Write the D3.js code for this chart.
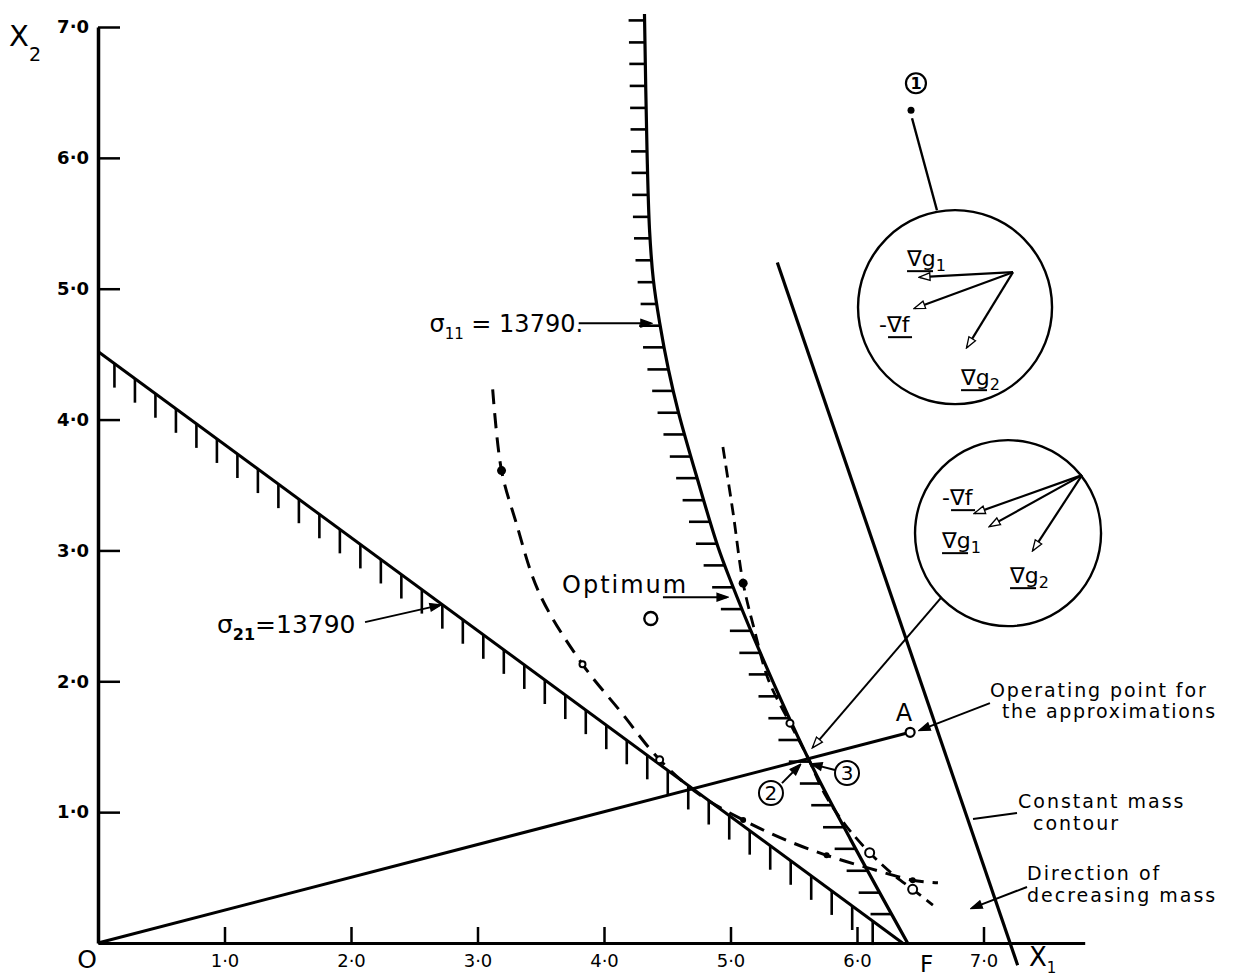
<!DOCTYPE html>
<html><head><meta charset="utf-8">
<script src="https://cdn.jsdelivr.net/npm/d3@7/dist/d3.min.js"></script>
<style>body{margin:0;background:#fff} svg text{font-family:"DejaVu Sans",sans-serif;fill:#000}</style>
</head><body><svg id="c" width="1237" height="978"></svg>
<script>
// ---------- data ----------
const xTicks = [1, 2, 3, 4, 5, 6, 7];
const yTicks = [1, 2, 3, 4, 5, 6, 7];
// constraint sigma11 = 13790 (curve)
const sigma11X = [4.32, 4.34, 4.36, 4.39, 4.44, 4.51, 4.59, 4.74, 4.90, 5.00, 5.19, 5.61, 5.95, 6.40];
const sigma11Y = [7.10, 6.06, 5.45, 5.07, 4.74, 4.38, 4.05, 3.54, 3.03, 2.77, 2.32, 1.42, 0.79, 0.00];
// constraint sigma21 = 13790 (straight line)
const sigma21X = [0.00, 6.36];
const sigma21Y = [4.52, 0.00];
// constant mass contour
const massX = [5.37, 7.27];
const massY = [5.20, -0.17];
// line from origin O to operating point A
const opX = [0.00, 6.42];
const opY = [0.00, 1.61];
// approximated constraint (dashed, left)
const approx1X = [3.12, 3.19, 3.30, 3.49, 3.83, 4.13, 4.44, 4.76, 5.10, 5.43, 5.76, 6.10, 6.44, 6.64];
const approx1Y = [4.23, 3.61, 3.23, 2.67, 2.13, 1.77, 1.40, 1.13, 0.94, 0.79, 0.67, 0.57, 0.48, 0.46];
// approximated constraint (dashed, right)
const approx2X = [4.94, 5.02, 5.10, 5.19, 5.30, 5.47, 5.61, 5.75, 5.91, 6.10, 6.29, 6.44, 6.60];
const approx2Y = [3.79, 3.29, 2.75, 2.39, 2.01, 1.68, 1.42, 1.13, 0.90, 0.69, 0.52, 0.41, 0.29];
// markers on the approximations
const filledDotX = [3.19, 5.10, 5.10, 5.76, 6.44];
const filledDotY = [3.61, 2.75, 0.94, 0.67, 0.48];
const filledDotR = [4.5, 4.5, 3, 3, 3];
const openDotX = [3.83, 4.44, 5.47, 6.10, 6.44];
const openDotY = [2.13, 1.40, 1.68, 0.69, 0.41];
const openDotR = [3, 3.5, 3.5, 4.5, 4.5];
const optimumX = [4.37];
const optimumY = [2.48];

// ---------- scales ----------
const x = d3.scaleLinear().domain([0, 7]).range([98, 983.5]);
const y = d3.scaleLinear().domain([0, 7]).range([943, 27]);
const xAxisScale = x.copy().domain([0, 7.8]).range([x(0), x(7.8)]);
const fmt = d => d3.format(".1f")(d).replace(".", "·");

const svg = d3.select("#c");
const defs = svg.append("defs");
function mk(id, w, h, fill) {
  defs.append("marker").attr("id", id).attr("viewBox", "0 0 10 10")
    .attr("refX", 9).attr("refY", 5).attr("markerWidth", w).attr("markerHeight", h)
    .attr("markerUnits", "userSpaceOnUse").attr("orient", "auto")
    .append("path").attr("d", "M0,1.5 L10,5 L0,8.5 Z").attr("fill", fill).attr("stroke", "#000").attr("stroke-width", 1.2);
}
mk("arr", 13, 11, "#000");
mk("arrO", 13, 11, "#fff");

// ---------- axes ----------
const gx = svg.append("g").attr("transform", `translate(0,${y(0)})`)
  .call(d3.axisBottom(xAxisScale).tickValues(xTicks).tickSizeInner(-16).tickSizeOuter(0).tickPadding(11).tickFormat(fmt));
gx.select(".domain").attr("stroke-width", 3);
gx.selectAll(".tick line").attr("stroke-width", 2.5);
gx.selectAll(".tick text").attr("font-size", 18).attr("font-family", "DejaVu Sans");

const gy = svg.append("g").attr("transform", `translate(${x(0)},0)`)
  .call(d3.axisLeft(y).tickValues(yTicks).tickSizeInner(-22).tickSizeOuter(0).tickPadding(9).tickFormat(fmt));
gy.select(".domain").attr("stroke-width", 3.5);
gy.selectAll(".tick line").attr("stroke-width", 2.5);
gy.selectAll(".tick text").attr("font-size", 18).attr("font-weight", "bold").attr("font-family", "DejaVu Sans");

// axis names
svg.append("text").attr("x", x(0) - 11).attr("y", y(0) + 25).attr("text-anchor", "middle").attr("font-size", 25).text("O");
svg.append("text").attr("x", x(6.55)).attr("y", y(0) + 29).attr("text-anchor", "middle").attr("font-size", 23).text("F");
const x1 = svg.append("text").attr("x", x(7.36)).attr("y", y(0) + 23).attr("font-size", 26);
x1.append("tspan").text("X");
x1.append("tspan").attr("font-size", 15).attr("dy", 7).text("1");
const x2 = svg.append("text").attr("x", 9).attr("y", 46).attr("font-size", 29);
x2.append("tspan").text("X");
x2.append("tspan").attr("font-size", 19).attr("dy", 15).text("2");

const line = d3.line().x((d) => x(d[0])).y((d) => y(d[1]));
const zip = (a, b) => a.map((v, i) => [v, b[i]]);

// ---------- sigma21 line + hatching ----------
svg.append("path").attr("d", line(zip(sigma21X, sigma21Y))).attr("fill", "none").attr("stroke", "#000").attr("stroke-width", 3);
const s21 = d3.scaleLinear().domain(sigma21X).range(sigma21Y);
const hatch21 = d3.range(0.13, 6.2, 0.162);
svg.append("g").selectAll("line").data(hatch21).join("line")
  .attr("x1", d => x(d)).attr("x2", d => x(d))
  .attr("y1", d => y(s21(d))).attr("y2", d => y(s21(d)) + 24)
  .attr("stroke", "#000").attr("stroke-width", 2.6);

// ---------- sigma11 curve + hatching ----------
const p11 = svg.append("path").attr("d", line.curve(d3.curveCatmullRom.alpha(0.5))(zip(sigma11X, sigma11Y)))
  .attr("fill", "none").attr("stroke", "#000").attr("stroke-width", 3.2);
line.curve(d3.curveLinear);
{
  const node = p11.node(), L = node.getTotalLength();
  const samples = d3.range(0, L, 0.5).map(l => node.getPointAtLength(l));
  const ys = d3.range(y(7.05), y(0.12), 21.8);
  const pts = ys.map(py => { let best = samples[0]; for (const s of samples) if (Math.abs(s.y - py) < Math.abs(best.y - py)) best = s; return best; });
  svg.append("g").selectAll("line").data(pts).join("line")
    .attr("x1", d => d.x).attr("x2", (d, i) => d.x - (i < 14 ? 16 : 21))
    .attr("y1", d => d.y).attr("y2", d => d.y)
    .attr("stroke", "#000").attr("stroke-width", 2.6);
}

// ---------- constant mass contour ----------
svg.append("path").attr("d", line(zip(massX, massY))).attr("fill", "none").attr("stroke", "#000").attr("stroke-width", 3.2);

// ---------- O -> A line ----------
svg.append("path").attr("d", line(zip(opX, opY))).attr("fill", "none").attr("stroke", "#000").attr("stroke-width", 3);
svg.append("circle").attr("cx", x(opX[1])).attr("cy", y(opY[1])).attr("r", 4.5).attr("fill", "#fff").attr("stroke", "#000").attr("stroke-width", 2.2);

// ---------- approximations (dashed) ----------
const smooth = d3.line().x(d => x(d[0])).y(d => y(d[1])).curve(d3.curveCatmullRom.alpha(0.5));
svg.append("path").attr("d", smooth(zip(approx1X, approx1Y))).attr("fill", "none").attr("stroke", "#000")
  .attr("stroke-width", 3).attr("stroke-dasharray", "15,9");
svg.append("path").attr("d", smooth(zip(approx2X, approx2Y))).attr("fill", "none").attr("stroke", "#000")
  .attr("stroke-width", 2.8).attr("stroke-dasharray", "12,7");
svg.append("g").selectAll("circle").data(filledDotX).join("circle")
  .attr("cx", d => x(d)).attr("cy", (d, i) => y(filledDotY[i])).attr("r", (d, i) => filledDotR[i]).attr("fill", "#000");
svg.append("g").selectAll("circle").data(openDotX).join("circle")
  .attr("cx", d => x(d)).attr("cy", (d, i) => y(openDotY[i])).attr("r", (d, i) => openDotR[i])
  .attr("fill", "#fff").attr("stroke", "#000").attr("stroke-width", 2);

// optimum
svg.append("circle").attr("cx", x(optimumX[0])).attr("cy", y(optimumY[0])).attr("r", 6.5)
  .attr("fill", "none").attr("stroke", "#000").attr("stroke-width", 2.4);

// ---------- annotations ----------
function arrow(x0, y0, x1, y1, open, w) {
  svg.append("line").attr("x1", x(x0)).attr("y1", y(y0)).attr("x2", x(x1)).attr("y2", y(y1))
    .attr("stroke", "#000").attr("stroke-width", w || 2).attr("marker-end", open ? "url(#arrO)" : "url(#arr)");
}
function txt(tx, ty, size, str, ls) {
  return svg.append("text").attr("x", x(tx)).attr("y", y(ty)).attr("font-size", size)
    .attr("letter-spacing", ls || 0).text(str);
}
// Optimum
txt(3.668, 2.674, 24, "Optimum", 2);
arrow(4.466, 2.643, 4.972, 2.643, false, 2);
// sigma labels
{
  const t = svg.append("text").attr("x", x(2.62)).attr("y", y(4.668)).attr("font-size", 24);
  t.append("tspan").text("σ");
  t.append("tspan").attr("font-size", 15).attr("dy", 7).text("11");
  t.append("tspan").attr("dy", -7).text(" = 13790.");
  arrow(3.80, 4.736, 4.37, 4.736, false, 2);
  const u = svg.append("text").attr("x", x(0.94)).attr("y", y(2.368)).attr("font-size", 25);
  u.append("tspan").text("σ");
  u.append("tspan").attr("font-size", 16).attr("dy", 7).attr("font-weight", "bold").text("21");
  u.append("tspan").attr("dy", -7).text("=13790");
  arrow(2.111, 2.452, 2.704, 2.582, false, 2);
}
// A
svg.append("text").attr("x", x(6.372)).attr("y", y(1.70)).attr("font-size", 24).attr("text-anchor", "middle").text("A");
// 2 and 3
[[5.32, 1.146, "2"], [5.921, 1.299, "3"]].forEach(d => {
  svg.append("circle").attr("cx", x(d[0])).attr("cy", y(d[1])).attr("r", 12).attr("fill", "#fff").attr("stroke", "#000").attr("stroke-width", 2);
  svg.append("text").attr("x", x(d[0])).attr("y", y(d[1]) + 7).attr("text-anchor", "middle").attr("font-size", 20).text(d[2]);
});
arrow(5.407, 1.222, 5.549, 1.360, false, 2);
arrow(5.826, 1.322, 5.644, 1.367, false, 2);
// right side labels
txt(7.051, 1.879, 19, "Operating point for", 1.9);
txt(7.146, 1.719, 19, "the approximations", 1.7);
arrow(7.051, 1.833, 6.498, 1.627, false, 2);
txt(7.273, 1.031, 19, "Constant mass", 2);
txt(7.391, 0.863, 19, "contour", 2);
svg.append("line").attr("x1", x(7.265)).attr("y1", y(0.993)).attr("x2", x(6.917)).attr("y2", y(0.947)).attr("stroke", "#000").attr("stroke-width", 2);
txt(7.344, 0.481, 19, "Direction of", 2);
txt(7.344, 0.313, 19, "decreasing mass", 2);
arrow(7.344, 0.428, 6.909, 0.267, false, 2);

// ---------- inset circles ----------
function inset(cx, cy, r, arrows, labels) {
  const g = svg.append("g").attr("transform", `translate(${x(cx)},${y(cy)})`);
  g.append("circle").attr("r", r).attr("fill", "#fff").attr("stroke", "#000").attr("stroke-width", 2.4);
  arrows.forEach(a => g.append("line").attr("x1", a[0]).attr("y1", a[1]).attr("x2", a[2]).attr("y2", a[3])
    .attr("stroke", "#000").attr("stroke-width", 2.2).attr("marker-end", "url(#arrO)"));
  labels.forEach(l => {
    const t = g.append("text").attr("x", l[0]).attr("y", l[1]).attr("font-size", 22);
    t.append("tspan").text(l[2]);
    if (l[3]) t.append("tspan").attr("font-size", 16).attr("dy", 5).text(l[3]);
    g.append("line").attr("x1", l[0] + l[4]).attr("x2", l[0] + l[5]).attr("y1", l[1] + 5).attr("y2", l[1] + 5)
      .attr("stroke", "#000").attr("stroke-width", 2);
  });
}
// upper inset (condition at point 1)
svg.append("line").attr("x1", x(6.435)).attr("y1", y(6.303)).attr("x2", x(6.632)).attr("y2", y(5.60)).attr("stroke", "#000").attr("stroke-width", 2.4);
svg.append("circle").attr("cx", x(6.427)).attr("cy", y(6.364)).attr("r", 3.5).attr("fill", "#000");
svg.append("circle").attr("cx", x(6.466)).attr("cy", y(6.57)).attr("r", 10).attr("fill", "#fff").attr("stroke", "#000").attr("stroke-width", 2.2);
svg.append("text").attr("x", x(6.466)).attr("y", y(6.57) + 6).attr("text-anchor", "middle").attr("font-size", 16).attr("font-weight", "bold").text("1");
inset(6.775, 4.859, 97,
  [[58, -35, -35, -30], [58, -35, -40, 1], [58, -35, 12, 40]],
  [[-48, -41, "∇g", "1", 0, 26], [-76, 25, "-∇f", "", 9, 33], [6, 78, "∇g", "2", 0, 26]]);
// lower inset (condition at points 2/3)
svg.append("line").attr("x1", x(6.696)).attr("y1", y(2.674)).attr("x2", x(5.652)).attr("y2", y(1.497))
  .attr("stroke", "#000").attr("stroke-width", 2).attr("marker-end", "url(#arrO)");
inset(7.194, 3.132, 93,
  [[74, -58, -33, -20], [74, -58, -18, -7], [74, -58, 25, 17]],
  [[-66, -28, "-∇f", "", 9, 33], [-66, 15, "∇g", "1", 0, 26], [2, 50, "∇g", "2", 0, 26]]);
</script></body></html>
